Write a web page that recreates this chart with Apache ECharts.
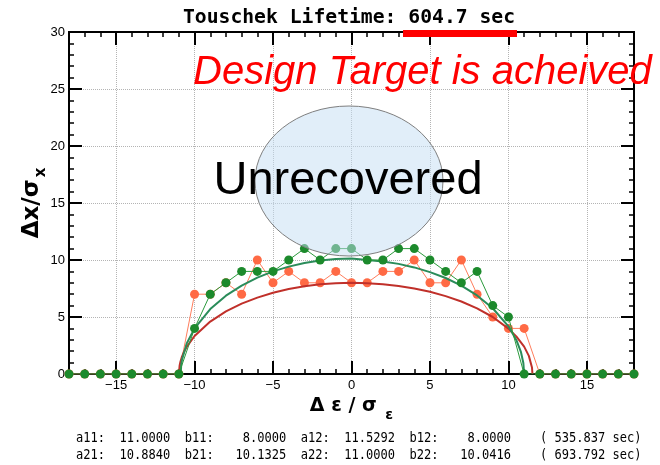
<!DOCTYPE html>
<html>
<head>
<meta charset="utf-8">
<script src="https://cdn.jsdelivr.net/npm/echarts@6/dist/echarts.min.js"></script>
<style>
html, body { margin: 0; padding: 0; background: #fff; }
#chart { width: 660px; height: 465px; }
</style>
</head>
<body>
<div id="chart"></div>
<script>
// Momentum offset grid (Δε/σε) of the tracking scan
const energyOffsets = [-18, -17, -16, -15, -14, -13, -12, -11, -10, -9, -8, -7, -6, -5, -4, -3, -2, -1,
  0, 1, 2, 3, 4, 5, 6, 7, 8, 9, 10, 11, 12, 13, 14, 15, 16, 17, 18];

// Aperture scan, case 1 (orange)
const apertureCase1 = [0, 0, 0, 0, 0, 0, 0, 0, 7, 7, 8, 7, 10, 8, 9, 8, 8, 9,
  8, 8, 9, 9, 10, 8, 8, 10, 7, 5, 4, 4, 0, 0, 0, 0, 0, 0, 0];

// Aperture scan, case 2 (green)
const apertureCase2 = [0, 0, 0, 0, 0, 0, 0, 0, 4, 7, 8, 9, 9, 9, 10, 11, 10, 11,
  11, 10, 10, 11, 11, 10, 9, 8, 9, 6, 5, 0, 0, 0, 0, 0, 0, 0, 0];

// Elliptic fit of case 1 (dark red)
const fit1X = [-11, -10.95, -10.9, -10.8, -10.7, -10.5, -10, -9, -8, -7, -6, -5, -4, -3, -2, -1,
  0, 1, 2, 3, 4, 5, 6, 7, 8, 9, 10, 10.5, 11, 11.3, 11.5, 11.53];
const fit1Y = [0, 0.76, 1.08, 1.52, 1.86, 2.38, 3.33, 4.60, 5.49, 6.17, 6.70, 7.13, 7.45, 7.70, 7.87, 7.97,
  8.00, 7.97, 7.88, 7.72, 7.50, 7.21, 6.83, 6.36, 5.76, 5.00, 3.98, 3.30, 2.40, 1.59, 0.57, 0];

// Elliptic fit of case 2 (green)
const fit2X = [-10.884, -10.85, -10.8, -10.5, -10, -9, -8, -7, -6, -5, -4, -3, -2, -1,
  0, 0, 1, 2, 3, 4, 5, 6, 7, 8, 9, 10, 10.5, 10.8, 10.95, 11];
const fit2Y = [0, 0.80, 1.26, 2.67, 4.00, 5.70, 6.87, 7.76, 8.45, 9.00, 9.42, 9.74, 9.96, 10.09,
  10.13, 10.04, 10.00, 9.87, 9.66, 9.35, 8.94, 8.42, 7.75, 6.89, 5.77, 4.18, 2.99, 1.91, 0.96, 0];

// Axis ticks
const xMajorTicks = [-15, -10, -5, 0, 5, 10, 15];
const xTickLabels = ['\u221215', '\u221210', '\u22125', '0', '5', '10', '15'];
const yTickStep = 5;

// Text blocks
const titleText = 'Touschek Lifetime: 604.7 sec';
const statusText = 'Design Target is acheived';
const regionText = 'Unrecovered';
const fitParamLines = [
  'a11:  11.0000  b11:    8.0000  a12:  11.5292  b12:    8.0000    ( 535.837 sec)',
  'a21:  10.8840  b21:   10.1325  a22:  11.0000  b22:   10.0416    ( 693.792 sec)'
];

const pairs = (xs, ys) => xs.map((x, i) => [x, ys[i]]);

const BLACK = '#000';
const frameLine = { show: true, onZero: false, lineStyle: { color: BLACK, width: 2 } };

function xAxisPart(position, major, withLabels) {
  const ax = {
    type: 'value', position, min: -18, max: 18,
    axisLine: frameLine,
    splitLine: { show: false },
    axisLabel: { show: false },
    axisTick: { show: true, inside: true, length: major ? 13 : 5, lineStyle: { color: BLACK, width: major ? 2 : 1.5 } }
  };
  if (major) {
    ax.axisTick.customValues = xMajorTicks;
  } else {
    ax.interval = 1;
  }
  if (withLabels) {
    ax.axisLabel = {
      show: true, customValues: xMajorTicks, margin: 5,
      color: BLACK, fontSize: 13, fontFamily: 'Liberation Sans',
      formatter: v => xTickLabels[xMajorTicks.indexOf(v)]
    };
    ax.splitLine = { show: true, lineStyle: { color: '#b4b4b4', type: 'dotted', width: 1 } };
    ax.name = '{m|\u0394 \u03b5 / \u03c3 }{s|\u03b5}';
    ax.nameLocation = 'middle';
    ax.nameGap = 9;
    ax.nameTextStyle = {
      rich: {
        m: { fontSize: 19, fontWeight: 'bold', fontFamily: 'DejaVu Sans', color: BLACK },
        s: { fontSize: 14, fontWeight: 'bold', fontFamily: 'DejaVu Sans', color: BLACK, padding: [18, 0, 0, 2] }
      }
    };
  }
  return ax;
}

function yAxisPart(position, withLabels) {
  const ax = {
    type: 'value', position, min: 0, max: 30, interval: yTickStep,
    axisLine: frameLine,
    axisTick: { show: true, inside: true, length: 13, lineStyle: { color: BLACK, width: 2 } },
    minorTick: { show: true, splitNumber: 5, length: 5, lineStyle: { color: BLACK, width: 1.5 } },
    splitLine: { show: withLabels, lineStyle: { color: '#b4b4b4', type: 'dotted', width: 1 } },
    axisLabel: { show: withLabels, margin: 4, color: BLACK, fontSize: 13, fontFamily: 'Liberation Sans' }
  };
  if (withLabels) {
    ax.name = '{m|\u0394x/\u03c3}{s|x}';
    ax.nameLocation = 'middle';
    ax.nameGap = 20;
    ax.nameMoveOverlap = false;
    ax.nameTextStyle = {
      rich: {
        m: { fontSize: 23, fontWeight: 'bold', fontFamily: 'DejaVu Sans', color: BLACK },
        s: { fontSize: 15, fontWeight: 'bold', fontFamily: 'DejaVu Sans', color: BLACK, padding: [19, 0, 0, 2] }
      }
    };
  }
  return ax;
}

const chart = echarts.init(document.getElementById('chart'), null, { renderer: 'canvas' });

const monoFont = '"DejaVu Sans Mono", "Liberation Mono", monospace';

chart.setOption({
  animation: false,
  backgroundColor: '#fff',
  grid: { left: 69, right: 26, top: 32, bottom: 91, containLabel: false, outerBoundsMode: 'none' },
  xAxis: [
    xAxisPart('bottom', false, false),
    xAxisPart('bottom', true, true),
    xAxisPart('top', false, false),
    xAxisPart('top', true, false)
  ],
  yAxis: [
    yAxisPart('left', true),
    yAxisPart('right', false)
  ],
  series: [
    {
      type: 'line', name: 'case 1', data: pairs(energyOffsets, apertureCase1),
      symbol: 'circle', symbolSize: 9, z: 2,
      itemStyle: { color: '#ff6a45' },
      lineStyle: { color: '#ff7d5c', width: 1 }
    },
    {
      type: 'line', name: 'fit 1', data: pairs(fit1X, fit1Y),
      showSymbol: false, symbol: 'none', z: 3,
      lineStyle: { color: '#c0302a', width: 2 }
    },
    {
      type: 'line', name: 'fit 2', data: pairs(fit2X, fit2Y),
      showSymbol: false, symbol: 'none', z: 4,
      lineStyle: { color: '#2a8c5a', width: 2 }
    },
    {
      type: 'line', name: 'case 2', data: pairs(energyOffsets, apertureCase2),
      symbol: 'circle', symbolSize: 9, z: 5,
      itemStyle: { color: '#1c8a2c' },
      lineStyle: { color: '#2b9a3c', width: 1 }
    }
  ],
  graphic: [
    {
      type: 'text', x: 349, y: 18, z: 100, scaleX: 0.985,
      style: { text: titleText, font: 'bold 20px ' + monoFont, fill: BLACK, align: 'center', verticalAlign: 'middle' }
    },
    {
      type: 'rect', z: 100, shape: { x: 403, y: 30, width: 114, height: 7 },
      style: { fill: '#ff0000' }
    },
    {
      type: 'text', x: 193, y: 73, z: 100,
      style: { text: statusText, font: 'italic 40px "Liberation Sans", Arial, sans-serif', fill: '#ff0000', align: 'left', verticalAlign: 'middle' }
    },
    {
      type: 'ellipse', z: 90, shape: { cx: 349, cy: 181, rx: 94, ry: 75 },
      style: { fill: 'rgba(196,222,243,0.5)', stroke: '#7f7f7f', lineWidth: 1 }
    },
    {
      type: 'text', x: 348, y: 181, z: 100,
      style: { text: regionText, font: '47px "Liberation Sans", Arial, sans-serif', fill: BLACK, align: 'center', verticalAlign: 'middle' }
    },
    {
      type: 'text', x: 76, y: 438, z: 100, scaleX: 0.86,
      style: { text: fitParamLines[0], font: '14px ' + monoFont, fill: BLACK, align: 'left', verticalAlign: 'middle' }
    },
    {
      type: 'text', x: 76, y: 455, z: 100, scaleX: 0.86,
      style: { text: fitParamLines[1], font: '14px ' + monoFont, fill: BLACK, align: 'left', verticalAlign: 'middle' }
    }
  ]
});
</script>
</body>
</html>
